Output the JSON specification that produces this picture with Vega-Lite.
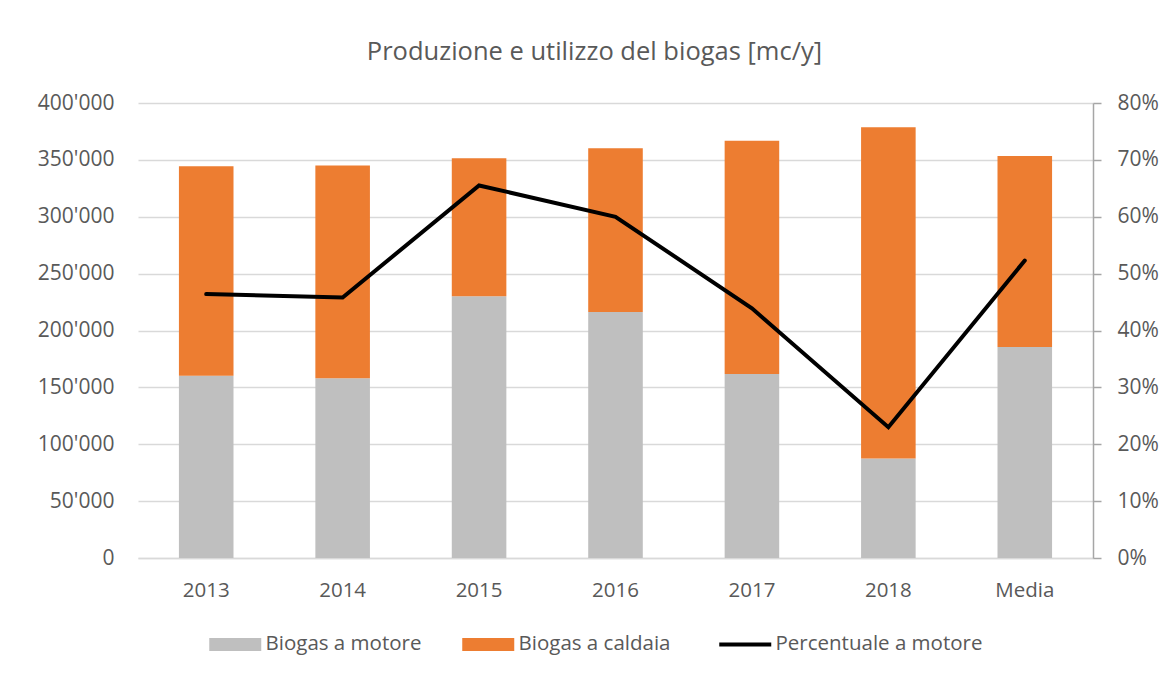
{
  "$schema": "https://vega.github.io/schema/vega-lite/v6.json",
  "autosize": {"type": "none"},
  "width": 955,
  "height": 455,
  "padding": {"left": 138, "top": 103, "right": 74, "bottom": 115},
  "background": "white",
  "title": {
    "text": "Produzione e utilizzo del biogas [mc/y]",
    "font": "Open Sans",
    "fontSize": 25.5,
    "fontWeight": "normal",
    "color": "#595959",
    "anchor": "middle",
    "dx": -21,
    "offset": 27
  },
  "config": {
    "view": {"stroke": null},
    "font": "Open Sans",
    "axis": {"labelFont": "Open Sans", "labelColor": "#595959", "labelFontSize": 20, "titleFont": "Open Sans"},
    "legend": {"labelFont": "Open Sans"}
  },
  "datasets": {
    "barre": [
      {"anno": "2013", "serie": "Biogas a motore", "valore": 160300},
      {"anno": "2013", "serie": "Biogas a caldaia", "valore": 184100},
      {"anno": "2014", "serie": "Biogas a motore", "valore": 158000},
      {"anno": "2014", "serie": "Biogas a caldaia", "valore": 187000},
      {"anno": "2015", "serie": "Biogas a motore", "valore": 230100},
      {"anno": "2015", "serie": "Biogas a caldaia", "valore": 121300},
      {"anno": "2016", "serie": "Biogas a motore", "valore": 216300},
      {"anno": "2016", "serie": "Biogas a caldaia", "valore": 143900},
      {"anno": "2017", "serie": "Biogas a motore", "valore": 161800},
      {"anno": "2017", "serie": "Biogas a caldaia", "valore": 205100},
      {"anno": "2018", "serie": "Biogas a motore", "valore": 87400},
      {"anno": "2018", "serie": "Biogas a caldaia", "valore": 291200},
      {"anno": "Media", "serie": "Biogas a motore", "valore": 185500},
      {"anno": "Media", "serie": "Biogas a caldaia", "valore": 167900}
    ],
    "perc": [
      {"anno": "2013", "percentuale": 0.464},
      {"anno": "2014", "percentuale": 0.458},
      {"anno": "2015", "percentuale": 0.655},
      {"anno": "2016", "percentuale": 0.600},
      {"anno": "2017", "percentuale": 0.439},
      {"anno": "2018", "percentuale": 0.230},
      {"anno": "Media", "percentuale": 0.523}
    ]
  },
  "encoding": {
    "x": {
      "field": "anno",
      "type": "nominal",
      "sort": ["2013", "2014", "2015", "2016", "2017", "2018", "Media"],
      "scale": {"paddingInner": 0.6, "paddingOuter": 0.3},
      "axis": {
        "title": null,
        "labelAngle": 0,
        "ticks": false,
        "domainColor": "#d9d9d9",
        "domainWidth": 1.5,
        "labelPadding": 22,
        "labelFontSize": 20.5
      }
    }
  },
  "layer": [
    {
      "data": {"name": "barre"},
      "transform": [
        {"calculate": "datum.serie == 'Biogas a motore' ? 0 : 1", "as": "ordine"}
      ],
      "mark": {"type": "bar", "width": {"band": 1}},
      "encoding": {
        "y": {
          "field": "valore",
          "type": "quantitative",
          "aggregate": "sum",
          "stack": "zero",
          "scale": {"domain": [0, 400000], "nice": false},
          "axis": {
            "title": null,
            "orient": "left",
            "values": [0, 50000, 100000, 150000, 200000, 250000, 300000, 350000, 400000],
            "labelExpr": "replace(format(datum.value, ','), ',', \"'\")",
            "domain": false,
            "ticks": false,
            "labelPadding": 24,
            "labelFontSize": 21,
            "gridColor": "#d9d9d9",
            "gridWidth": 1.5
          }
        },
        "color": {
          "field": "serie",
          "type": "nominal",
          "scale": {
            "domain": ["Biogas a motore", "Biogas a caldaia", "Percentuale a motore"],
            "range": ["#bfbfbf", "#ed7d31", "#000000"]
          },
          "legend": {
            "title": null,
            "orient": "none",
            "direction": "horizontal",
            "legendX": 87,
            "legendY": 531,
            "columnPadding": 40,
            "labelFontSize": 20.5,
            "labelLimit": 400,
            "labelColor": "#595959",
            "labelOffset": 20,
            "symbolSize": 2704,
            "encode": {
              "symbols": {
                "update": {
                  "shape": {"signal": "datum.value == 'Percentuale a motore' ? 'stroke' : 'M-1,-0.25H1V0.25H-1Z'"},
                  "fill": {"signal": "datum.value == 'Percentuale a motore' ? 'transparent' : (datum.value == 'Biogas a motore' ? '#bfbfbf' : '#ed7d31')"},
                  "stroke": {"signal": "datum.value == 'Percentuale a motore' ? '#000000' : 'transparent'"},
                  "strokeWidth": {"signal": "datum.value == 'Percentuale a motore' ? 4 : 0"},
                  "opacity": {"value": 1}
                }
              }
            }
          }
        },
        "order": {"field": "ordine", "type": "quantitative"}
      }
    },
    {
      "data": {"name": "perc"},
      "mark": {"type": "line", "color": "#000000", "strokeWidth": 4, "strokeCap": "round", "strokeJoin": "miter"},
      "encoding": {
        "y": {
          "field": "percentuale",
          "type": "quantitative",
          "scale": {"domain": [0, 0.8], "nice": false},
          "axis": {
            "title": null,
            "orient": "right",
            "values": [0, 0.1, 0.2, 0.3, 0.4, 0.5, 0.6, 0.7, 0.8],
            "format": ".0%",
            "grid": false,
            "domainColor": "#a6a6a6",
            "domainWidth": 1.5,
            "tickColor": "#a6a6a6",
            "tickWidth": 1.5,
            "tickSize": 8,
            "labelPadding": 16,
            "labelFontSize": 21
          }
        },
        "color": {"datum": "Percentuale a motore"}
      }
    }
  ],
  "resolve": {"scale": {"y": "independent"}}
}
